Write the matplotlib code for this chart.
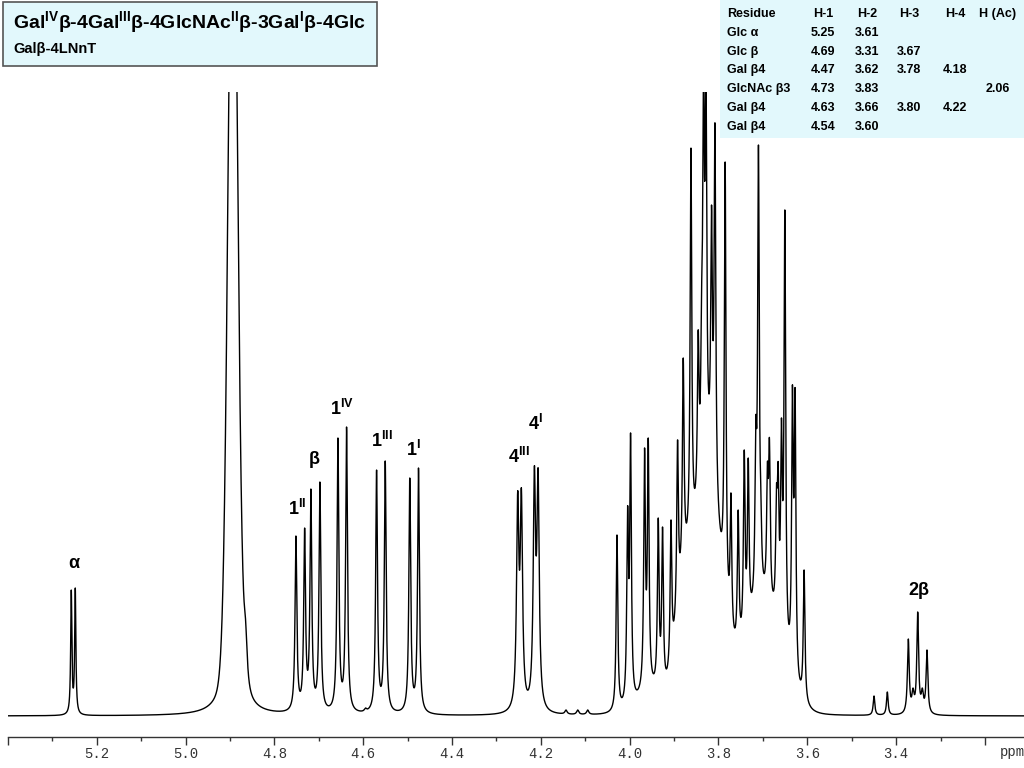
import numpy as np
import matplotlib
matplotlib.use("Agg")
import matplotlib.pyplot as plt
from matplotlib.patches import Rectangle
from matplotlib.ticker import FixedLocator, FixedFormatter, MultipleLocator

plt.rcParams['font.family'] = ['Liberation Sans', 'DejaVu Sans']
plt.rcParams['mathtext.fontset'] = 'custom'
plt.rcParams['mathtext.rm'] = 'Liberation Sans'
plt.rcParams['mathtext.bf'] = 'Liberation Sans:bold'
plt.rcParams['mathtext.it'] = 'Liberation Sans:italic'

# --- peaks: shift (ppm), height above baseline, half width (ppm)
peak_shift = [5.2575, 5.2485,
              4.7516, 4.7320, 4.7179, 4.6976, 4.6570, 4.6376, 4.5950,
              4.5700, 4.5505, 4.4952, 4.4756,
              4.2522, 4.2439, 4.2146, 4.2063, 4.1434, 4.1170, 4.0945,
              4.0286, 4.0047, 3.9980, 3.9665, 3.9582, 3.9357, 3.9260, 3.9070,
              3.8922, 3.8794, 3.8620, 3.8457, 3.8380, 3.8337, 3.8283, 3.8157,
              3.8080, 3.7850, 3.7720, 3.7557, 3.7420, 3.7330, 3.7160, 3.7100,
              3.7047, 3.6898, 3.6853, 3.6695, 3.6657, 3.6582, 3.6506, 3.6335,
              3.6275, 3.6072,
              3.4498, 3.4198, 3.3725, 3.3620, 3.3514, 3.3410, 3.3305]
peak_height = [126, 128,
               180, 188, 227, 234, 278, 289, 8,
               246, 255, 238, 248,
               225, 228, 250, 248, 6, 6, 6,
               181, 210, 283, 268, 278, 198, 189, 196,
               276, 358, 568, 386, 429, 660, 660, 511,
               593, 554, 223, 206, 266, 258, 299, 571,
               229, 254, 278, 231, 254, 298, 506, 331,
               328, 146,
               20, 24, 77, 28, 104, 28, 66]
peak_width = [0.0016, 0.0016,
              0.0024, 0.0024, 0.0024, 0.0024, 0.0024, 0.0024, 0.003,
              0.0024, 0.0024, 0.0024, 0.0024,
              0.0031, 0.0031, 0.0031, 0.0031, 0.003, 0.003, 0.003] + [0.0022] * 34 + \
             [0.0022, 0.0022, 0.0024, 0.003, 0.0024, 0.003, 0.0024]

# water signal (goes off scale) and its small side signals
hdo_shift = 4.8935
hdo_core = 660      # gaussian part
hdo_tail = 256      # lorentzian part
side_shift = [4.9050, 4.8650]
side_height = [15, 40]
side_width = [0.0015, 0.0045]

# broad unresolved humps under the 3.6-4.0 cluster
hump_shift = [3.825, 3.880, 3.700, 3.950]
hump_height = [230, 90, 105, 20]
hump_width = [0.030, 0.018, 0.040, 0.030]

# table of assignments
residues = ['Glc α', 'Glc β', 'Gal β4', 'GlcNAc β3', 'Gal β4', 'Gal β4']
h1 = ['5.25', '4.69', '4.47', '4.73', '4.63', '4.54']
h2 = ['3.61', '3.31', '3.62', '3.83', '3.66', '3.60']
h3 = ['', '3.67', '3.78', '', '3.80', '']
h4 = ['', '', '4.18', '', '4.22', '']
hac = ['', '', '', '2.06', '', '']

# signal labels: text, shift, height of the text baseline
label_text = ['α', r'1$^{\mathbf{II}}$', 'β', r'1$^{\mathbf{IV}}$', r'1$^{\mathbf{III}}$',
              r'1$^{\mathbf{I}}$', r'4$^{\mathbf{III}}$', r'4$^{\mathbf{I}}$', '2β']
label_shift = [5.2524, 4.7485, 4.7102, 4.6473, 4.5588, 4.4875, 4.2484, 4.2117, 3.3485]
label_height = [148, 201, 252, 301, 269, 260, 253, 286, 121]

tick_values = [5.4, 5.2, 5.0, 4.8, 4.6, 4.4, 4.2, 4.0, 3.8, 3.6, 3.4, 3.2]
tick_labels = ['', '5.2', '5.0', '4.8', '4.6', '4.4', '4.2', '4.0', '3.8', '3.6', '3.4', '']


def lor(x, c, w):
    return 1.0 / (1.0 + ((x - c) / w) ** 2)


def gau(x, c, s):
    return np.exp(-0.5 * ((x - c) / s) ** 2)


def background(x):
    y = hdo_core * gau(x, hdo_shift, 0.0109) + hdo_tail * lor(x, hdo_shift, 0.0112)
    for c, h, w in zip(side_shift, side_height, side_width):
        y = y + h * lor(x, c, w)
    for c, h, w in zip(hump_shift, hump_height, hump_width):
        y = y + h * gau(x, c, w)
    return y


ps = np.array(peak_shift)
pw = np.array(peak_width)
# amplitudes so that the summed lines reach the read heights
target = np.array(peak_height, dtype=float) - background(ps)
M = lor(ps[:, None], ps[None, :], pw[None, :])
amp = np.clip(target, 0, None)
for _ in range(800):
    amp = np.clip(amp + 0.4 * (target - M @ amp), 0, None)

x = np.linspace(5.4, 3.112, 30000)
y = background(x)
for c, a, w in zip(ps, amp, pw):
    y = y + a * lor(x, c, w)

fig = plt.figure(figsize=(10.24, 7.68), dpi=100)
ax = fig.add_axes([8 / 1024, 31 / 768, 1016 / 1024, 645 / 768])
ax.plot(x, y, color='black', lw=1.0)
ax.set_xlim(5.4, 3.112)
ax.set_ylim(-21, 624)

for s in ['left', 'right', 'top']:
    ax.spines[s].set_visible(False)
ax.spines['bottom'].set_color('#333333')
ax.spines['bottom'].set_linewidth(1.0)
ax.set_yticks([])
ax.xaxis.set_major_locator(FixedLocator(tick_values))
ax.xaxis.set_major_formatter(FixedFormatter(tick_labels))
ax.xaxis.set_minor_locator(MultipleLocator(0.1))
ax.tick_params(axis='x', which='major', length=5.5, width=1.0, color='#333333',
               pad=2, labelsize=10, labelcolor='#333333')
ax.tick_params(axis='x', which='minor', length=3.2, width=1.0, color='#333333')
for t in ax.get_xticklabels():
    t.set_fontfamily('Liberation Mono')
fig.text(1000 / 1024, 1 - 752 / 768, 'ppm', family='Liberation Mono', fontsize=10,
         color='#333333', ha='left', va='center')

for t, c, h in zip(label_text, label_shift, label_height):
    ax.text(c, h, t, ha='center', va='baseline', fontsize=13, fontweight='bold')

# title box
fig.patches.append(Rectangle((3 / 1024, 1 - 66 / 768), 374 / 1024, 64 / 768,
                             transform=fig.transFigure, facecolor='#e2f8fc',
                             edgecolor='#555555', lw=1.2))
fig.text(13 / 1024, 1 - 28.5 / 768,
         r'Gal$^{\mathbf{IV}}$β-4Gal$^{\mathbf{III}}$β-4GlcNAc$^{\mathbf{II}}$β-3Gal$^{\mathbf{I}}$β-4Glc',
         fontsize=14, fontweight='bold', va='baseline', ha='left')
fig.text(13 / 1024, 1 - 53 / 768, 'Galβ-4LNnT', fontsize=10.5, fontweight='bold',
         va='baseline', ha='left')

# assignment table
fig.patches.append(Rectangle((720 / 1024, 1 - 138 / 768), 304 / 1024, 138 / 768,
                             transform=fig.transFigure, facecolor='#e2f8fc',
                             edgecolor='none'))
col_x = [823, 867, 909, 955, 998]
row_y = [14, 33, 52, 70, 89, 108, 127]
fig.text(727 / 1024, 1 - row_y[0] / 768, 'Residue', fontsize=9, fontweight='bold',
         va='center', ha='left')
for cx, head in zip(col_x, ['H-1', 'H-2', 'H-3', 'H-4', 'H (Ac)']):
    fig.text(cx / 1024, 1 - row_y[0] / 768, head, fontsize=9, fontweight='bold',
             va='center', ha='center')
for i, name in enumerate(residues):
    ry = 1 - row_y[i + 1] / 768
    fig.text(727 / 1024, ry, name, fontsize=9, fontweight='bold', va='center', ha='left')
    for cx, col in zip(col_x, [h1, h2, h3, h4, hac]):
        if col[i]:
            fig.text(cx / 1024, ry, col[i], fontsize=9, fontweight='bold',
                     va='center', ha='center')

fig.savefig('out.png', dpi=100)
